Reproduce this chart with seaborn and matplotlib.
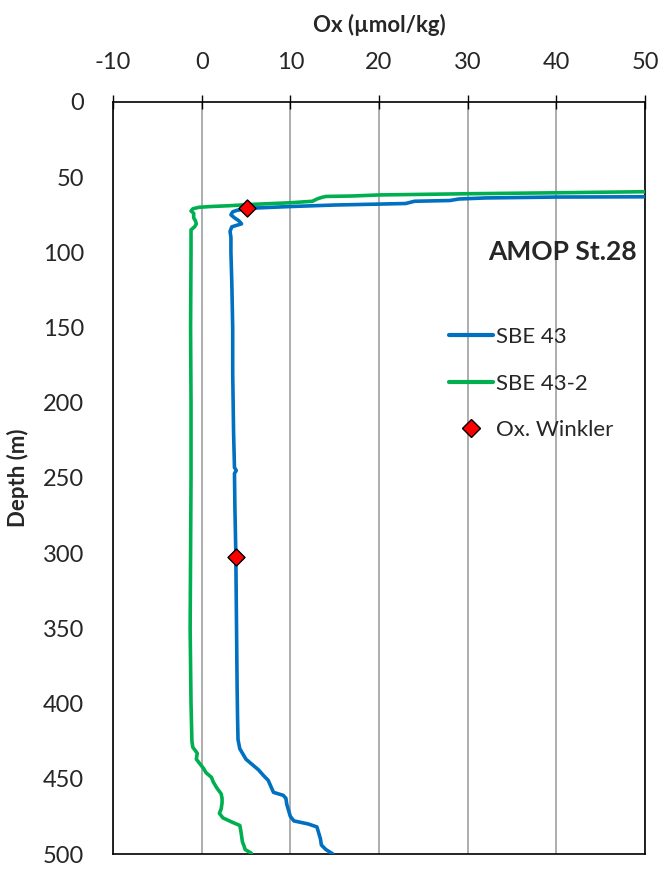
import matplotlib
matplotlib.use("Agg")
import matplotlib.pyplot as plt
import seaborn as sns
import pandas as pd
from matplotlib.lines import Line2D

# SBE 43 profile
depth1 = [63.0, 63.2, 63.8, 64.5, 65.5, 66.0, 67.5, 68.5, 69.5, 70.5, 71, 72, 73, 75, 77, 79, 81, 83, 86, 90,
          100, 120, 150, 180, 200, 220, 243, 245, 247, 270, 300, 330, 360, 390, 410, 424, 430, 437, 441, 444,
          448, 451, 455, 459, 461, 463, 467, 471, 475, 478, 480, 482, 486, 490, 494, 497, 500]
ox1 = [52, 40, 32, 29, 28, 24, 23, 15, 10, 6, 5, 4, 3.5, 3.3, 3.7, 4.2, 4.5, 3.4, 3.2, 3.3,
       3.3, 3.4, 3.5, 3.5, 3.55, 3.6, 3.7, 3.9, 3.7, 3.75, 3.85, 3.9, 3.95, 4.0, 4.05, 4.1, 4.3, 5.0, 5.8, 6.4,
       7.0, 7.5, 7.8, 8.1, 9.2, 9.5, 9.6, 9.8, 10.0, 10.4, 12.0, 13.0, 13.2, 13.4, 13.5, 14.0, 14.8]

# SBE 43-2 profile
depth2 = [59.5, 60.0, 60.3, 61.0, 61.8, 62.5, 62.8, 63.5, 64.5, 66, 67, 68, 69, 69.5, 70, 71, 72.5, 74, 77, 79,
          81, 83, 85, 90, 100, 150, 200, 250, 300, 350, 400, 425, 429, 433, 437, 440, 443, 446, 449, 452,
          456, 460, 463, 466, 470, 473, 476, 479, 481, 484, 488, 492, 495, 497, 499.5]
ox2 = [52, 45, 41, 30, 20, 17, 14, 13.5, 13.0, 12.5, 10, 6, 3, 1, -0.3, -1.0, -1.2, -0.9, -0.9, -0.7,
       -0.6, -0.8, -1.2, -1.2, -1.2, -1.25, -1.2, -1.2, -1.25, -1.3, -1.2, -1.1, -1.0, -0.5, -0.6, -0.2, 0.2, 0.5, 1.1, 1.3,
       1.7, 2.2, 2.3, 2.3, 2.2, 2.0, 2.4, 3.5, 4.3, 4.4, 4.5, 4.6, 4.8, 4.9, 5.6]

# Winkler samples
wink_depth = [70.5, 302.5]
wink_ox = [5.1, 3.9]

x_ticks = [-10, 0, 10, 20, 30, 40, 50]
y_ticks = [0, 50, 100, 150, 200, 250, 300, 350, 400, 450, 500]

sns.set_theme(style="white")
plt.rcParams['font.family'] = ['Lato', 'DejaVu Sans']
plt.rcParams['axes.unicode_minus'] = False

fig = plt.figure(figsize=(6.63, 8.72), dpi=100)
ax = fig.add_axes([113/663, 1-854/872, (645-113)/663, (854-102)/872])

blue = "#0070C0"
green = "#00B050"

df1 = pd.DataFrame({"ox": ox1, "depth": depth1})
df2 = pd.DataFrame({"ox": ox2, "depth": depth2})
dfw = pd.DataFrame({"ox": wink_ox, "depth": wink_depth})

sns.lineplot(data=df1, x="ox", y="depth", sort=False, estimator=None, color=blue, lw=2.6, ax=ax, zorder=3)
sns.lineplot(data=df2, x="ox", y="depth", sort=False, estimator=None, color=green, lw=2.6, ax=ax, zorder=4)
sns.scatterplot(data=dfw, x="ox", y="depth", marker="D", s=75, color="red", edgecolor="black",
                linewidth=1.0, ax=ax, zorder=5)

ax.set_xlim(-10, 50)
ax.set_ylim(500, 0)
ax.set_xticks(x_ticks)
ax.set_yticks(y_ticks)
ax.xaxis.tick_top()
ax.xaxis.set_label_position("top")
ax.tick_params(axis="x", direction="inout", length=10, width=1, color="black", labelsize=17, pad=16)
ax.tick_params(axis="y", direction="inout", length=10, width=1, color="black", labelsize=17, pad=16)
ax.grid(axis="x", color="#A0A0A0", lw=1.2)
ax.set_axisbelow(True)
for s in ax.spines.values():
    s.set_color("black")
    s.set_linewidth(1.2)

ax.set_xlabel("Ox (µmol/kg)", fontsize=16, fontweight="bold", labelpad=14)
ax.set_ylabel("Depth (m)", fontsize=16, fontweight="bold", labelpad=10)

ax.text(0.985, 0.8, "AMOP St.28", transform=ax.transAxes, ha="right", va="center",
        fontsize=19, fontweight="bold")

handles = [Line2D([0], [0], color=blue, lw=3),
           Line2D([0], [0], color=green, lw=3),
           Line2D([0], [0], marker="D", color="none", markerfacecolor="red", markeredgecolor="black", markersize=9)]
ax.legend(handles, ["SBE 43", "SBE 43-2", "Ox. Winkler"], loc="upper left",
          bbox_to_anchor=(440/663, 1-318/872), bbox_transform=fig.transFigure,
          frameon=False, fontsize=16, handlelength=2.0, handletextpad=0.1, labelspacing=1.2,
          borderaxespad=0)

fig.savefig("out.png", dpi=100)
